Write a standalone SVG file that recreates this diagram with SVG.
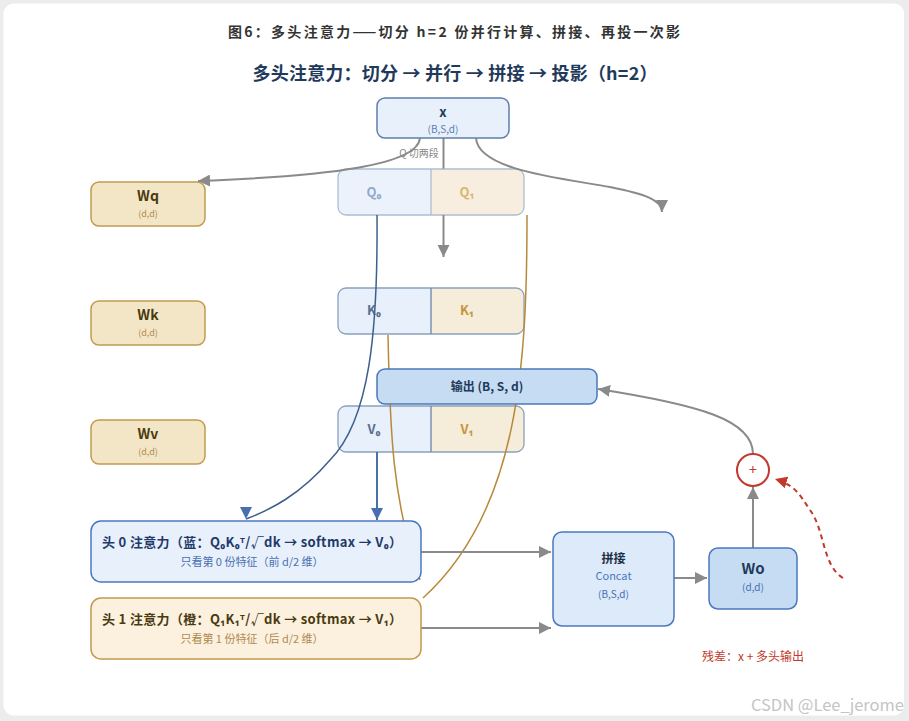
<svg xmlns="http://www.w3.org/2000/svg" width="909" height="721" viewBox="0 0 909 721">
<defs>
<style>
text{font-family:"Noto Sans CJK SC","Noto Sans",sans-serif}
.t1{font-size:14px;font-weight:bold;fill:#333;text-anchor:middle}
.t2{font-size:18px;font-weight:bold;fill:#1f3a5a;text-anchor:middle}
.wbox{fill:#f3e6c6;stroke:#c19a4e;stroke-width:1.5}
.wlab{font-size:14px;font-weight:bold;fill:#4a3a10;text-anchor:middle}
.wsub{font-size:9px;fill:#b08a50;text-anchor:middle}
.bl{fill:#e8f0fb}
.or{fill:#f6ecda}
.rowb{fill:none;stroke:#8aa0bd;stroke-width:1.3}
.lab0{font-size:13px;font-weight:bold;fill:#5a6f8f;text-anchor:middle}
.lab1{font-size:13px;font-weight:bold;fill:#c4963a;text-anchor:middle}
.g{fill:none;stroke:#8a8a8a;stroke-width:2}
.oc{fill:none;stroke:#b8893a;stroke-width:1.5}
.mid{text-anchor:middle}
</style>
<marker id="ag" markerUnits="userSpaceOnUse" markerWidth="14" markerHeight="12" refX="12" refY="6" orient="auto"><path d="M0,0 L12,6 L0,12 Z" fill="#8a8a8a"/></marker>
<marker id="ab" markerUnits="userSpaceOnUse" markerWidth="14" markerHeight="12" refX="12" refY="6" orient="auto"><path d="M0,0 L12,6 L0,12 Z" fill="#4a6fb0"/></marker>
<marker id="abd" markerUnits="userSpaceOnUse" markerWidth="14" markerHeight="12" refX="12" refY="6" orient="90"><path d="M0,0 L12,6 L0,12 Z" fill="#4a6fb0"/></marker>
<marker id="ar" markerUnits="userSpaceOnUse" markerWidth="14" markerHeight="12" refX="12" refY="6" orient="auto"><path d="M0,0 L12,6 L0,12 Z" fill="#c0392b"/></marker>
</defs>
<rect width="909" height="721" fill="#ececec"/>
<rect x="3.5" y="3.5" width="900.5" height="712" rx="10" fill="#ffffff"/>
<text class="t1" x="454" y="37" textLength="452">图6：多头注意力——切分 h=2 份并行计算、拼接、再投一次影</text>
<text class="t2" x="455" y="80" textLength="405">多头注意力：切分 → 并行 → 拼接 → 投影（h=2）</text>

<g id="Wq"><rect class="wbox" x="91" y="182" width="114" height="44" rx="8"/><text class="wlab" x="148" y="201">Wq</text><text class="wsub" x="148" y="217">(d,d)</text></g>
<g id="Wk"><rect class="wbox" x="91" y="301" width="114" height="44" rx="8"/><text class="wlab" x="148" y="320">Wk</text><text class="wsub" x="148" y="336">(d,d)</text></g>
<g id="Wv"><rect class="wbox" x="91" y="420" width="114" height="44" rx="8"/><text class="wlab" x="148" y="439">Wv</text><text class="wsub" x="148" y="455">(d,d)</text></g>

<g id="x">
<line class="g" x1="443.5" y1="138" x2="443.5" y2="169"/>
<rect x="377" y="98" width="132" height="40" rx="8" fill="#e8f0fb" stroke="#5f7fa8" stroke-width="1.5"/>
<text class="mid" x="443" y="117" font-size="13" font-weight="bold" fill="#1f3a5a">x</text>
<text class="mid" x="443" y="133" font-size="10" fill="#5a7fb0">(B,S,d)</text>
</g>

<g id="Q" opacity="0.85">
<path class="bl" d="M346,169 H431 V215 H346 A8,8 0 0 1 338,207 V177 A8,8 0 0 1 346,169 Z"/>
<path class="or" d="M431,169 H516 A8,8 0 0 1 524,177 V207 A8,8 0 0 1 516,215 H431 Z"/>
<rect x="338" y="169" width="186" height="46" rx="8" fill="none" stroke="#9fb3cc" stroke-width="1.3"/>
<line x1="431" y1="169" x2="431" y2="215" stroke="#9fb3cc" stroke-width="1.3"/>
<text x="374" y="197" font-size="13" font-weight="bold" fill="#7f9cc2" text-anchor="middle">Q₀</text>
<text x="467" y="197" font-size="13" font-weight="bold" fill="#d2aa5c" text-anchor="middle">Q₁</text>
</g>
<g id="K">
<path class="bl" d="M346,288 H431 V334 H346 A8,8 0 0 1 338,326 V296 A8,8 0 0 1 346,288 Z"/>
<path class="or" d="M431,288 H516 A8,8 0 0 1 524,296 V326 A8,8 0 0 1 516,334 H431 Z"/>
<rect class="rowb" x="338" y="288" width="186" height="46" rx="8"/>
<line x1="431" y1="288" x2="431" y2="334" stroke="#6f86a6" stroke-width="1.3"/>
<text class="lab0" x="374" y="315">K₀</text>
<text class="lab1" x="467" y="315">K₁</text>
</g>
<g id="V">
<path class="bl" d="M346,406 H431 V452 H346 A8,8 0 0 1 338,444 V414 A8,8 0 0 1 346,406 Z"/>
<path class="or" d="M431,406 H516 A8,8 0 0 1 524,414 V444 A8,8 0 0 1 516,452 H431 Z"/>
<rect class="rowb" x="338" y="406" width="186" height="46" rx="8"/>
<line x1="431" y1="406" x2="431" y2="452" stroke="#6f86a6" stroke-width="1.3"/>
<text class="lab0" x="374" y="434">V₀</text>
<text class="lab1" x="467" y="434">V₁</text>
</g>

<g id="connectors">
<line class="g" x1="443.5" y1="215" x2="443.5" y2="257" marker-end="url(#ag)"/>
<path class="g" d="M420,138 C418,165 330,176 198,181" marker-end="url(#ag)"/>
<path class="g" d="M476,138 C478,170 560,178 610,187 C645,194 662,200 662,212" marker-end="url(#ag)"/>
<path fill="none" stroke="#3d5f8c" stroke-width="1.5" d="M377,215 C378,330 370,420 330,460 C300,495 270,510 246,519" marker-end="url(#abd)"/>
<line x1="377" y1="452" x2="377" y2="520" stroke="#4a6fa8" stroke-width="2" marker-end="url(#ab)"/>
<path class="oc" d="M388,335 C390,430 392,500 420,580"/>
<path class="oc" d="M527,215 C527,360 520,510 423,598"/>
<line class="g" x1="421" y1="552" x2="551" y2="552" marker-end="url(#ag)"/>
<line class="g" x1="421" y1="628" x2="551" y2="628" marker-end="url(#ag)"/>
<line class="g" x1="674" y1="578" x2="707" y2="578" marker-end="url(#ag)"/>
<line class="g" x1="753" y1="548" x2="753" y2="487" marker-end="url(#ag)"/>
<path class="g" d="M753,454 C753,420 700,405 598,389" marker-end="url(#ag)"/>
<path fill="none" stroke="#c0392b" stroke-width="2" stroke-dasharray="5,4" d="M843,578 C822,565 825,530 810,510 C800,495 795,485 775,479" marker-end="url(#ar)"/>
<text x="419" y="157" font-size="10" fill="#888" text-anchor="middle">Q 切两段</text>
</g>

<g id="output">
<rect x="377" y="369" width="220" height="35" rx="8" fill="#c5dcf3" stroke="#4a78b8" stroke-width="1.5"/>
<text class="mid" x="487" y="391" font-size="12" font-weight="bold" fill="#1f3a5a">输出 (B, S, d)</text>
</g>

<g id="head0">
<rect x="91" y="521" width="330" height="61" rx="10" fill="#e8f0fb" stroke="#4a78c0" stroke-width="1.5"/>
<text x="102" y="547" font-size="13" font-weight="bold" fill="#1f3a6a" textLength="300">头 0 注意力（蓝：Q₀K₀ᵀ/√dk → softmax → V₀）</text>
<text class="mid" x="252" y="566" font-size="11" fill="#4a6fb0">只看第 0 份特征（前 d/2 维）</text>
</g>
<g id="head1">
<rect x="91" y="598" width="330" height="61" rx="10" fill="#fcf1df" stroke="#c19a4e" stroke-width="1.5"/>
<text x="102" y="624" font-size="13" font-weight="bold" fill="#4a3a10" textLength="300">头 1 注意力（橙：Q₁K₁ᵀ/√dk → softmax → V₁）</text>
<text class="mid" x="252" y="643" font-size="11" fill="#b08a50">只看第 1 份特征（后 d/2 维）</text>
</g>

<g id="concat">
<rect x="553" y="532" width="121" height="94" rx="9" fill="#dceafa" stroke="#4a78c0" stroke-width="1.5"/>
<text class="mid" x="613.5" y="563" font-size="12" font-weight="bold" fill="#1f2f45">拼接</text>
<text class="mid" x="613.5" y="580" font-size="11" fill="#4a78c0">Concat</text>
<text class="mid" x="613.5" y="598" font-size="10" fill="#4a6fb0">(B,S,d)</text>
</g>
<g id="Wo">
<rect x="709" y="548" width="88" height="61" rx="9" fill="#c5dcf3" stroke="#4a78c0" stroke-width="1.5"/>
<text class="mid" x="753" y="574" font-size="15" font-weight="bold" fill="#1f3a5a">Wo</text>
<text class="mid" x="753" y="591" font-size="10" fill="#4a6fb0">(d,d)</text>
</g>
<g id="add">
<circle cx="753" cy="470" r="16" fill="#ffffff" stroke="#c0392b" stroke-width="2"/>
<text class="mid" x="753" y="475" font-size="14" fill="#c0392b">+</text>
</g>
<text class="mid" x="753" y="661" font-size="12" fill="#c0392b">残差：x + 多头输出</text>
<text x="904" y="711" font-family="Liberation Sans, sans-serif" font-size="16.5" fill="#c4c4c4" text-anchor="end">CSDN @Lee_jerome</text>
</svg>
